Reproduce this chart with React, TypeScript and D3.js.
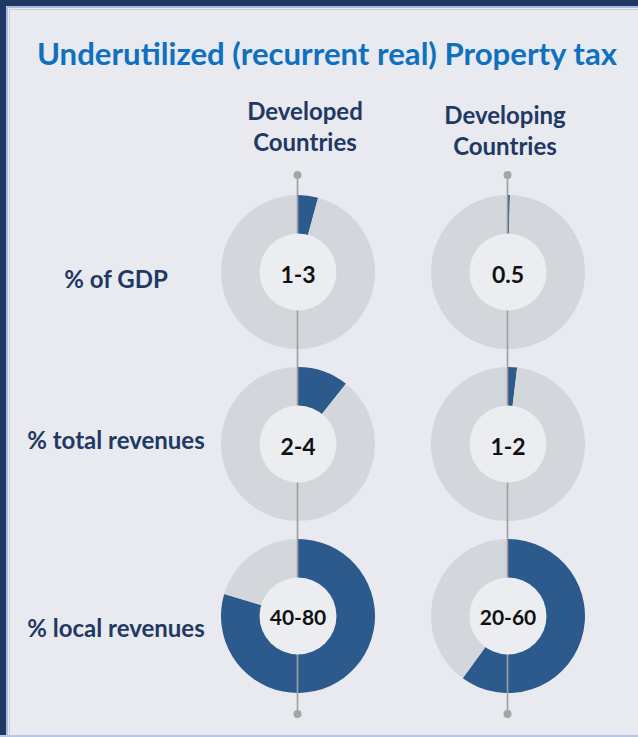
import React from "react";
import * as d3 from "d3";

// two columns of donuts: share of property tax, developed vs developing

const title = "Underutilized (recurrent real) Property tax";
const groups = ["Developed", "Developing"];
const groupSub = ["Countries", "Countries"];
const measures = ["% of GDP", "% total revenues", "% local revenues"];
const developedShare = [0.042, 0.107, 0.796];
const developingShare = [0.004, 0.019, 0.6];
const developedText = ["1-3", "2-4", "40-80"];
const developingText = ["0.5", "1-2", "20-60"];

const W = 638;
const H = 737;
const BG = "#e8eaef";
const HOLE = "#ebedf1";
const RING = "#d3d6db";
const BLUE = "#2d5a8c";
const NAVY = "#1f3864";
const LINE = "#9d9fa3";
const FONT = "Lato, 'Open Sans', sans-serif";

const outerR = 77;
const innerR = 38.5;

export default function App() {
  const x = d3.scalePoint<string>().domain(groups).range([298, 508]);
  const y = d3.scalePoint<string>().domain(measures).range([272, 616]);

  const pie = d3.pie<number>().sort(null).value((d) => d);
  const arc = d3.arc<d3.PieArcDatum<number>>().innerRadius(innerR - 1).outerRadius(outerR);

  const shares = [developedShare, developingShare];
  const texts = [developedText, developingText];
  // label baselines sit a bit below each donut centre
  const labelDy = [16, 5, 21];

  return (
    <svg
      width={W}
      height={H}
      style={{ position: "fixed", left: 0, top: 0, display: "block" }}
      fontFamily={FONT}
    >
      <rect width={W} height={H} fill={BG} />
      <rect width={W} height={6} fill={NAVY} />
      <rect width={6} height={H} fill={NAVY} />
      <line x1={7} x2={7} y1={7} y2={H} stroke="#a8bcdc" strokeWidth={2} />
      <line x1={7} x2={W} y1={7} y2={7} stroke="#a8bcdc" strokeWidth={2} />
      <line x1={9.5} x2={9.5} y1={9} y2={H} stroke="#c9d0dc" strokeWidth={1} />
      <line x1={9} x2={W} y1={9.5} y2={9.5} stroke="#c9d0dc" strokeWidth={1} />
      <line x1={0} x2={W} y1={736} y2={736} stroke="#b6c8e4" strokeWidth={2} />

      <text
        x={327}
        y={65}
        textAnchor="middle"
        fontSize={30}
        fontWeight={700}
        fill="#1070c0"
        textLength={580}
        lengthAdjust="spacingAndGlyphs"
      >
        {title}
      </text>

      {groups.map((g, i) => {
        const tx = x(g)! + (i === 0 ? 7 : -3);
        return (
          <text
            key={g}
            x={tx}
            y={i === 0 ? 120 : 124}
            textAnchor="middle"
            fontSize={24}
            fontWeight={700}
            fill={NAVY}
          >
            <tspan x={tx}>{g}</tspan>
            <tspan x={tx} dy={31}>
              {groupSub[i]}
            </tspan>
          </text>
        );
      })}

      {measures.map((m, j) => (
        <text
          key={m}
          x={116}
          y={y(m)! + labelDy[j]}
          textAnchor="middle"
          fontSize={24}
          fontWeight={700}
          fill={NAVY}
        >
          {m}
        </text>
      ))}

      {groups.map((g, i) => {
        const cx = x(g)!;
        const top = y(measures[0])! - 97;
        const bottom = y(measures[measures.length - 1])! + 98;
        return (
          <g key={g}>
            {measures.map((m, j) => {
              const slices = pie([shares[i][j], 1 - shares[i][j]]);
              return (
                <g key={m} transform={`translate(${cx},${y(m)})`}>
                  {slices.map((s, k) => (
                    <path key={k} d={arc(s)!} fill={k === 0 ? BLUE : RING} />
                  ))}
                </g>
              );
            })}
            <line x1={cx - 0.5} x2={cx - 0.5} y1={top} y2={bottom} stroke={LINE} strokeWidth={1.6} />
            <circle cx={cx - 0.5} cy={top} r={4} fill="#a3a5a9" />
            <circle cx={cx - 0.5} cy={bottom} r={4} fill="#a3a5a9" />
            {measures.map((m, j) => {
              const label = texts[i][j];
              return (
                <g key={m} transform={`translate(${cx},${y(m)})`}>
                  <circle r={innerR} fill={HOLE} />
                  <text
                    y={label.length > 3 ? 9 : 11}
                    textAnchor="middle"
                    fontSize={label.length > 3 ? 21 : 23}
                    fontWeight={700}
                    fill="#111"
                  >
                    {label}
                  </text>
                </g>
              );
            })}
          </g>
        );
      })}
    </svg>
  );
}
